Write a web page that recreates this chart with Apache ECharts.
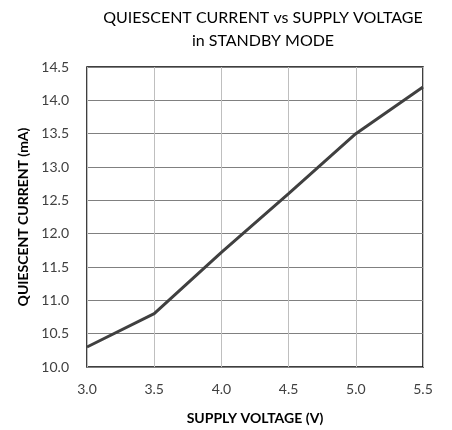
<!DOCTYPE html>
<html>
<head>
<meta charset="utf-8">
<script src="https://cdn.jsdelivr.net/npm/echarts@6/dist/echarts.min.js"></script>
<style>
  html, body { margin: 0; padding: 0; background: #fff; }
  #chart { width: 452px; height: 430px; }
</style>
</head>
<body>
<div id="chart"></div>
<script>
// supply voltage (V) vs quiescent current (mA)
let voltage = [3.0, 3.5, 4.0, 4.5, 5.0, 5.5];
let current = [10.3, 10.8, 11.72, 12.6, 13.5, 14.2];

let titleLines = ['QUIESCENT CURRENT vs SUPPLY VOLTAGE', 'in STANDBY MODE'];
let xName = 'SUPPLY VOLTAGE (V)';
let yName = 'QUIESCENT CURRENT (mA)';

let fontFam = 'Lato, "Open Sans", sans-serif';

let seriesData = [];
for (let i = 0; i < voltage.length; i++) {
    seriesData.push([voltage[i], current[i]]);
}

let myChart = echarts.init(document.getElementById('chart'));

let option = {
    animation: false,
    title: {
        text: titleLines.join('\n'),
        left: 258,
        textAlign: 'center',
        top: 1,
        textStyle: {
            fontFamily: fontFam,
            fontWeight: 'normal',
            fontSize: 16,
            lineHeight: 23,
            color: '#000'
        }
    },
    grid: {
        left: 87,
        top: 67,
        right: 29,
        bottom: 62,
        show: true,
        borderColor: '#000',
        borderWidth: 1.5,
        backgroundColor: '#fff'
    },
    xAxis: {
        type: 'value',
        min: 3.0,
        max: 5.5,
        interval: 0.5,
        name: xName,
        nameLocation: 'middle',
        nameGap: 44,
        nameTextStyle: { fontFamily: fontFam, fontWeight: 'bold', fontSize: 14, color: '#000' },
        axisLine: { show: false },
        axisTick: { show: false },
        axisLabel: {
            margin: 15,
            fontFamily: fontFam,
            fontSize: 14,
            color: '#404040',
            formatter: function (v) { return v.toFixed(1); }
        },
        splitLine: { show: true, lineStyle: { color: '#bfbfbf', width: 1 } }
    },
    yAxis: {
        type: 'value',
        min: 10.0,
        max: 14.5,
        interval: 0.5,
        name: yName,
        nameLocation: 'middle',
        nameGap: 55,
        nameTextStyle: { fontFamily: fontFam, fontWeight: 'bold', fontSize: 14, color: '#000' },
        axisLine: { show: false },
        axisTick: { show: false },
        axisLabel: {
            margin: 18,
            fontFamily: fontFam,
            fontSize: 14,
            color: '#404040',
            formatter: function (v) { return v.toFixed(1); }
        },
        splitLine: { show: true, lineStyle: { color: '#808080', width: 1 } }
    },
    series: [
        {
            type: 'line',
            data: seriesData,
            showSymbol: false,
            lineStyle: { color: '#404040', width: 3 },
            itemStyle: { color: '#404040' }
        }
    ]
};

myChart.setOption(option);
</script>
</body>
</html>
